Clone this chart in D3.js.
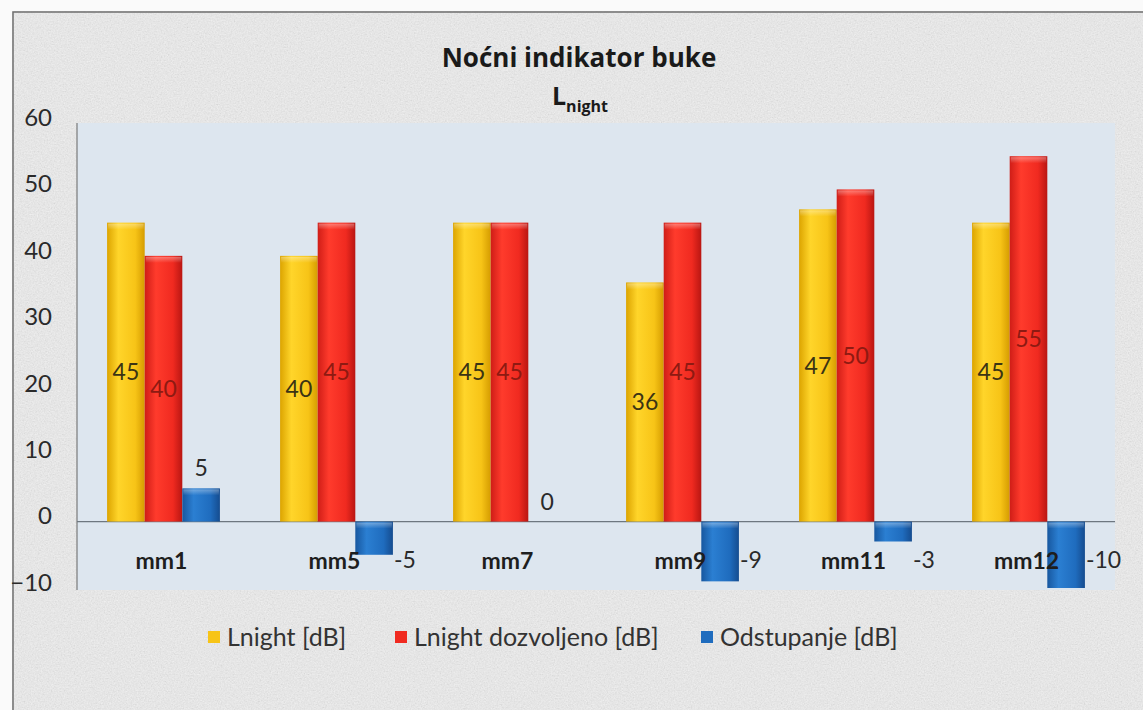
<!DOCTYPE html>
<html>
<head>
<meta charset="utf-8">
<script src="https://cdn.jsdelivr.net/npm/d3@7"></script>
<style>
  body { margin: 0; background: #fff; }
  svg text { font-family: Lato, "Open Sans", sans-serif; }
  svg text.heading { font-family: "Open Sans", "Noto Sans", sans-serif; }
</style>
</head>
<body>
<svg id="chart"></svg>
<script>
// podaci
const categories = ["mm1", "mm5", "mm7", "mm9", "mm11", "mm12"];
const seriesNames = ["Lnight [dB]", "Lnight dozvoljeno [dB]", "Odstupanje [dB]"];
const lnight = [45, 40, 45, 36, 47, 45];
const lnightAllowed = [40, 45, 45, 45, 50, 55];
const deviation = [5, -5, 0, -9, -3, -10];
const yTicks = [-10, 0, 10, 20, 30, 40, 50, 60];

const width = 1143, height = 710;
const plot = { left: 77, right: 1115, top: 123, bottom: 588 };

const svg = d3.select('#chart')
    .attr('width', width)
    .attr('height', height);

const defs = svg.append('defs');

// papirna tekstura
const paper = defs.append('filter').attr('id', 'paper')
    .attr('x', 0).attr('y', 0).attr('width', '100%').attr('height', '100%');
paper.append('feTurbulence')
    .attr('type', 'fractalNoise')
    .attr('baseFrequency', 0.7)
    .attr('numOctaves', 3)
    .attr('seed', 4);
paper.append('feColorMatrix')
    .attr('type', 'matrix')
    .attr('values', '0.4 0.4 0.4 0 0.05  0.4 0.4 0.4 0 0.05  0.4 0.4 0.4 0 0.05  0 0 0 0 0.5');

// gradijenti za stupce
const colors = [
    ['#dca400', '#ffd52a', '#f7c417', '#d59c00'],
    ['#cf1d17', '#ff3b2c', '#f02a20', '#b91612'],
    ['#17579f', '#2b7fd2', '#1f6cbe', '#154c8f']
];
colors.forEach((c, i) => {
    const g = defs.append('linearGradient').attr('id', 'grad' + i)
        .attr('x1', 0).attr('x2', 1).attr('y1', 0).attr('y2', 0);
    [0, 0.3, 0.75, 1].forEach((o, j) => g.append('stop').attr('offset', o).attr('stop-color', c[j]));
});
// odsjaj na vrhu stupca
const shine = defs.append('linearGradient').attr('id', 'shine')
    .attr('x1', 0).attr('x2', 0).attr('y1', 0).attr('y2', 1);
shine.append('stop').attr('offset', 0).attr('stop-color', '#fff').attr('stop-opacity', 0.35);
shine.append('stop').attr('offset', 1).attr('stop-color', '#fff').attr('stop-opacity', 0);

// pozadina
svg.append('rect').attr('width', width).attr('height', height).attr('fill', '#ececec');
svg.append('rect').attr('width', width).attr('height', height)
    .attr('filter', 'url(#paper)').attr('opacity', 0.5);
svg.append('rect').attr('width', width).attr('height', 11).attr('fill', '#fafafa');
svg.append('rect').attr('width', 12).attr('height', height).attr('fill', '#fafafa');
svg.append('path')
    .attr('d', `M13,${height} V12 H${width}`)
    .attr('fill', 'none').attr('stroke', '#6f6f6f').attr('stroke-width', 1.5);

// područje grafa
svg.append('rect')
    .attr('x', plot.left).attr('y', plot.top)
    .attr('width', plot.right - plot.left).attr('height', plot.bottom - plot.top + 2)
    .attr('fill', '#dde6ef');

// skale
const x0 = d3.scaleBand()
    .domain(categories)
    .range([plot.left, plot.right]);

const x1 = d3.scaleBand()
    .domain(d3.range(seriesNames.length))
    .range([0, x0.bandwidth()])
    .paddingOuter(0.8);

const yscale = d3.scaleLinear()
    .domain([-10, 60])
    .range([plot.bottom, plot.top]);

// y os
const yaxis = d3.axisLeft(yscale).tickValues(yTicks).tickSize(0).tickPadding(25);
const yg = svg.append('g').attr('transform', `translate(${plot.left},0)`).call(yaxis);
yg.select('.domain').attr('stroke', '#7a7a7a').attr('stroke-width', 1.2)
    .attr('d', `M0,${plot.top}V${plot.bottom + 2}`);
yg.selectAll('.tick text')
    .attr('font-size', 24).attr('fill', '#2a2a2a')
    .attr('dy', '0.1em');

// nulta linija
svg.append('line')
    .attr('x1', plot.left).attr('x2', plot.right)
    .attr('y1', yscale(0)).attr('y2', yscale(0))
    .attr('stroke', '#6e7780').attr('stroke-width', 1.2);

// stupci
const table = categories.map((c, i) => ({
    cat: c,
    vals: [lnight[i], lnightAllowed[i], deviation[i]]
}));

const groups = svg.selectAll('g.group').data(table).enter()
    .append('g').attr('class', 'group')
    .attr('transform', d => `translate(${x0(d.cat)},0)`);

const barData = d => d.vals.map((v, s) => ({ v, s }));

groups.selectAll('rect.bar')
    .data(barData)
    .enter().append('rect').attr('class', 'bar')
    .attr('x', d => x1(d.s))
    .attr('y', d => yscale(Math.max(0, d.v)))
    .attr('width', x1.bandwidth())
    .attr('height', d => Math.abs(yscale(d.v) - yscale(0)))
    .attr('fill', d => `url(#grad${d.s})`);

groups.selectAll('rect.shine')
    .data(d => barData(d).filter(b => b.v !== 0))
    .enter().append('rect').attr('class', 'shine')
    .attr('x', d => x1(d.s) + 1)
    .attr('y', d => yscale(Math.max(0, d.v)) + 1)
    .attr('width', x1.bandwidth() - 2)
    .attr('height', 6)
    .attr('fill', 'url(#shine)');

// x oznake kategorija
svg.append('g').selectAll('text').data(categories).enter()
    .append('text')
    .attr('x', d => x0(d) + x0.bandwidth() / 2 - 2)
    .attr('y', yscale(0) + 47)
    .attr('text-anchor', 'middle')
    .attr('font-size', 23).attr('font-weight', 'bold').attr('fill', '#1e1e1e')
    .text(d => d);

// oznake vrijednosti
const labelColors = ['#3b3414', '#8e1a12', '#2a2a2a'];
groups.selectAll('text.val')
    .data(barData)
    .enter().append('text').attr('class', 'val')
    .attr('font-size', 23)
    .attr('fill', d => labelColors[d.s])
    .attr('text-anchor', d => (d.s === 2 && d.v < 0) ? 'start' : 'middle')
    .attr('x', d => {
        if (d.s === 2 && d.v < 0) return x1(d.s) + x1.bandwidth() + 1;
        return x1(d.s) + x1.bandwidth() / 2;
    })
    .attr('y', d => {
        if (d.s < 2) return yscale(d.v / 2);
        if (d.v >= 0) return yscale(d.v) - 20;
        return yscale(-5.8);
    })
    .attr('dy', '0.35em')
    .text(d => d.v);

// naslov
svg.append('text').attr('class', 'heading')
    .attr('x', 579).attr('y', 67)
    .attr('text-anchor', 'middle')
    .attr('font-size', 26).attr('font-weight', 'bold').attr('fill', '#1a1a1a')
    .text('Noćni indikator buke');

const sub = svg.append('text').attr('class', 'heading')
    .attr('x', 580).attr('y', 105)
    .attr('text-anchor', 'middle')
    .attr('font-weight', 'bold').attr('fill', '#1a1a1a');
sub.append('tspan').attr('font-size', 25).text('L');
sub.append('tspan').attr('font-size', 16).attr('dy', 7).text('night');

// legenda
const legendX = [208, 395, 701];
const legend = svg.append('g').selectAll('g').data(seriesNames).enter()
    .append('g').attr('transform', (d, i) => `translate(${legendX[i]},637)`);
legend.append('rect')
    .attr('x', 0).attr('y', -6).attr('width', 12).attr('height', 12)
    .attr('fill', (d, i) => colors[i][2]);
legend.append('text')
    .attr('x', 19).attr('y', 0).attr('dy', '0.35em')
    .attr('font-size', 25).attr('fill', '#333')
    .text(d => d);
</script>
</body>
</html>
